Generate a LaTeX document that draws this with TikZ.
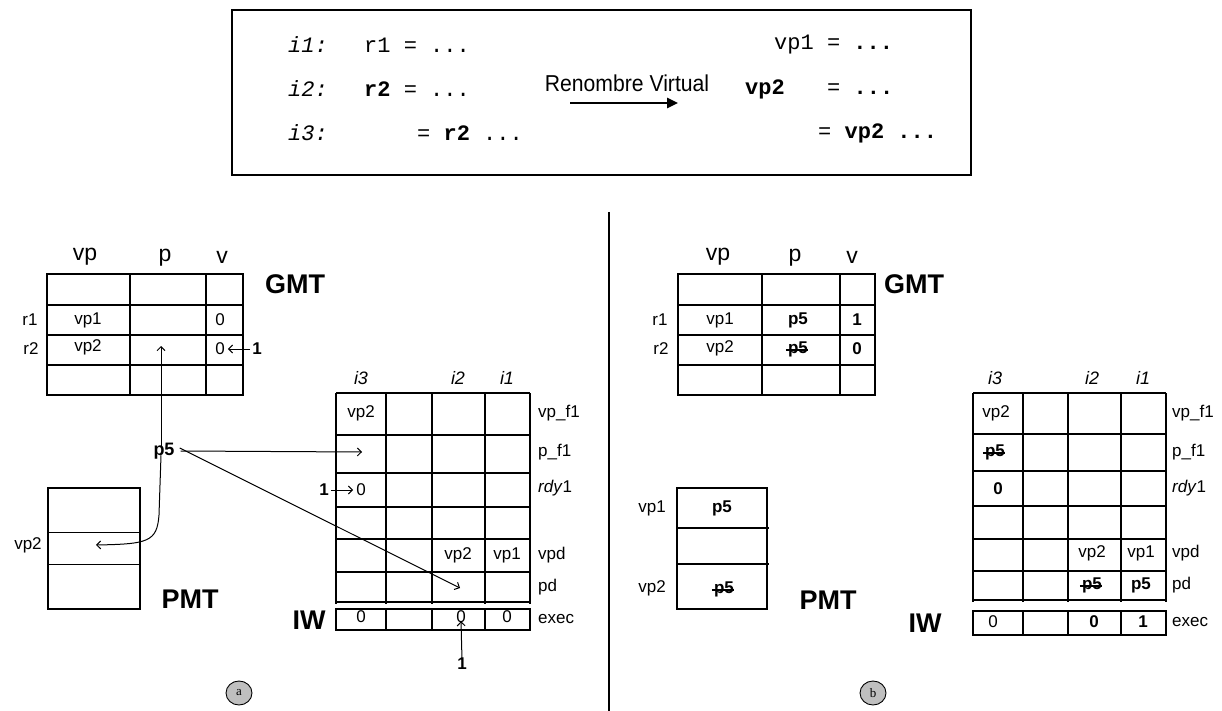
\documentclass[tikz,border=0pt]{standalone}
\usepackage{fontspec}
\setmainfont{Liberation Sans}
\setmonofont{Liberation Mono}
\newfontfamily\serifcirc{Liberation Serif}
\usetikzlibrary{arrows.meta,shapes.geometric}
\newcommand\cellf{\fontsize{17}{19}\selectfont}
\newcommand\headf{\fontsize{23}{26}\selectfont}
\newcommand\bigf{\fontsize{27}{30}\selectfont\bfseries}
\newcommand\monof{\ttfamily\fontsize{22}{24}\selectfont}
\tikzset{
  cell/.style={font=\cellf, inner sep=0pt},
  head/.style={font=\headf, inner sep=0pt},
  ttl/.style={font=\bigf, inner sep=0pt},
  code/.style={font=\monof, inner sep=0pt, anchor=west},
  tbl/.style={line width=1.8pt},
  thinl/.style={line width=0.9pt},
  arr/.style={line width=1pt, -{Straight Barb[length=4pt,width=8pt]}},
  strikeln/.style={line width=1.3pt},
  badge/.style={ellipse, draw, line width=0.9pt, fill=black!25, minimum width=26pt, minimum height=24pt, inner sep=0pt, font=\serifcirc\fontsize{13}{14}\selectfont}
}
\begin{document}
\begin{tikzpicture}[x=1pt,y=-1pt]
\useasboundingbox (0,0) rectangle (1222,711);
% ---------- top box ----------
\draw[line width=2pt] (232,10) rectangle (971,175);
\node[code] (i1) at (288,45) {\itshape i1:};
\node[code] (i2) at (288,89) {\itshape i2:};
\node[code] (i3) at (288,133) {\itshape i3:};
\node[code] (l1) at (364,45) {r1 = ...};
\node[code] (l2) at (364,89) {\textbf{r2} = ...};
\node[code] (l3) at (417,133) {= \textbf{r2} ...};
\node[code] (r1c) at (774,45) {vp1 = \textbf{...}};
\node[code] (r2a) at (745,89) {\textbf{vp2}};
\node[code] (r2b) at (827,89) {= \textbf{...}};
\node[code] (r3c) at (818,133) {= \textbf{vp2 ...}};
\node[font=\fontsize{23}{25}\selectfont, inner sep=0pt] (ren) at (627,83) {\scalebox{0.92}[1]{Renombre Virtual}};
\coordinate (ra) at (570,103);
\coordinate (rb) at (678,103);
\draw[line width=2.5pt, -{Triangle[length=11pt,width=10pt]}] (ra) -- (rb);
% ---------- divider ----------
\coordinate (d1) at (609,212);
\coordinate (d2) at (609,711);
\draw[line width=1.6pt] (d1) -- (d2);
% ---------- left GMT ----------
\draw[tbl] (47,274) rectangle (243,395);
\foreach \y in {305,335,365} \draw[tbl] (47,\y) -- (243,\y);
\foreach \x in {130,206} \draw[tbl] (\x,274) -- (\x,395);
\node[head] (ahvp) at (85,257) {vp};
\node[head] (ahp) at (165,258) {p};
\node[head] (ahv) at (222,257) {v};
\node[ttl] (agmt) at (295,284) {GMT};
\node[cell] (ar1) at (30,320) {r1};
\node[cell] (ar2) at (31,349) {r2};
\node[cell] (avp1) at (88,320) {vp1};
\node[cell] (avp2) at (88,347) {vp2};
\node[cell] (av1) at (220,320) {0};
\node[cell] (av2) at (220,349) {0};
\node[cell, font=\cellf\bfseries] (aone) at (257,349) {1};
\draw[arr] ([xshift=-2pt]aone.west) -- ([xshift=3pt]av2.east);
\coordinate (aptip) at (161,346);
% ---------- p5 and arrows ----------
\node[cell, font=\fontsize{18}{20}\selectfont\bfseries] (p5) at (164,451) {p5};
\draw[arr] ([yshift=-4pt]p5.north -| aptip) -- (aptip);
\coordinate (pf1tip) at (362,452);
\draw[arr] ([xshift=6pt]p5.east) -- (pf1tip);
\coordinate (pdtip) at (460,588);
\draw[arr] ([xshift=5pt,yshift=3pt]p5.east) -- (pdtip);
\coordinate (pmttip) at (96,545);
\draw[arr] ([yshift=4pt]p5.south -| aptip) -- (159,515) .. controls (157,542) and (148,544) .. (pmttip);
% ---------- left PMT ----------
\draw[tbl] (48,488) rectangle (140,609);
\draw[thinl] (48,532) -- (140,532);
\draw[thinl] (48,564) -- (140,564);
\node[cell] (apvp2) at (28,545) {vp2};
\node[ttl] (apmt) at (190,599) {PMT};
% ---------- left IW ----------
\draw[tbl] (336,393) -- (530,393);
\foreach \y in {435,473,507,539,572} \draw[tbl] (336,\y) -- (530,\y);
\draw[tbl] (336,602) -- (530,602);
\foreach \x in {336,386,432,485,530} \draw[tbl] (\x,393) -- (\x,604);
\draw[tbl] (336,609) rectangle (530,630);
\foreach \x in {386,432,485} \draw[tbl] (\x,609) -- (\x,630);
\node[cell, font=\fontsize{18}{20}\selectfont\itshape] (ai3) at (361,378) {i3};
\node[cell, font=\fontsize{18}{20}\selectfont\itshape] (ai2) at (458,378) {i2};
\node[cell, font=\fontsize{18}{20}\selectfont\itshape] (ai1) at (507,378) {i1};
\node[cell] (aw1) at (361,413) {vp2};
\node[cell] (ardy) at (361,490) {0};
\node[cell, font=\cellf\bfseries] (ardyone) at (324,490) {1};
\draw[arr] ([xshift=2pt]ardyone.east) -- ([xshift=-3pt]ardy.west);
\node[cell] (avpd2) at (458,555) {vp2};
\node[cell] (avpd1) at (507,555) {vp1};
\node[cell] (ae1) at (361,617) {0};
\node[cell] (ae3) at (461,617) {0};
\node[cell] (ae4) at (507,617) {0};
\node[cell, font=\cellf\bfseries] (aeone) at (462,664) {1};
\draw[arr] ([yshift=-2pt]aeone.north) -- ([yshift=2pt]ae3.south);
\node[cell, anchor=west] (alvpf) at (538,413) {vp\_f1};
\node[cell, anchor=west] (alpf) at (538,452) {p\_f1};
\node[cell, anchor=west] (alrdy) at (538,488) {\textit{rdy}1};
\node[cell, anchor=west] (alvpd) at (538,555) {vpd};
\node[cell, anchor=west] (alpd) at (538,587) {pd};
\node[cell, anchor=west] (alex) at (538,619) {exec};
\node[ttl] (aiw) at (309,620) {IW};
\node[badge] (ca) at (239,693) {a};
% ---------- right GMT ----------
\draw[tbl] (678,274) rectangle (875,395);
\foreach \y in {305,335,365} \draw[tbl] (678,\y) -- (875,\y);
\foreach \x in {762,840} \draw[tbl] (\x,274) -- (\x,395);
\node[head] (bhvp) at (718,257) {vp};
\node[head] (bhp) at (795,258) {p};
\node[head] (bhv) at (852,257) {v};
\node[ttl] (bgmt) at (914,284) {GMT};
\node[cell] (br1) at (660,320) {r1};
\node[cell] (br2) at (661,349) {r2};
\node[cell] (bvp1) at (720,320) {vp1};
\node[cell] (bvp2) at (720,348) {vp2};
\node[cell, font=\cellf\bfseries] (bp1) at (798,320) {p5};
\node[cell, font=\cellf\bfseries] (bp2) at (798,349) {p5};
\draw[strikeln] ([xshift=-2pt,yshift=-1pt]bp2.west) -- ([yshift=-1pt]bp2.east);
\node[cell, font=\cellf\bfseries] (bv1) at (857,320) {1};
\node[cell, font=\cellf\bfseries] (bv2) at (857,349) {0};
% ---------- right PMT ----------
\draw[tbl] (677,488) rectangle (767,609);
\draw[tbl] (677,528) -- (769,528);
\draw[tbl] (677,564) -- (769,564);
\node[cell] (bpvp1) at (652,508) {vp1};
\node[cell, font=\cellf\bfseries] (bpp1) at (722,508) {p5};
\node[cell] (bpvp2) at (652,588) {vp2};
\node[cell, font=\cellf\bfseries] (bpp2) at (724,589) {p5};
\draw[strikeln] ([xshift=-2pt,yshift=-1pt]bpp2.west) -- ([yshift=-1pt]bpp2.east);
\node[ttl] (bpmt) at (828,600) {PMT};
% ---------- right IW ----------
\draw[tbl] (973,393) -- (1166,393);
\foreach \y in {434,471,506,539,571} \draw[tbl] (973,\y) -- (1166,\y);
\draw[tbl] (973,600) -- (1166,600);
\foreach \x in {973,1023,1068,1121,1166} \draw[tbl] (\x,393) -- (\x,602);
\draw[tbl] (973,611) rectangle (1166,635);
\foreach \x in {1023,1068,1121} \draw[tbl] (\x,611) -- (\x,635);
\node[cell, font=\fontsize{18}{20}\selectfont\itshape] (bi3) at (995,378) {i3};
\node[cell, font=\fontsize{18}{20}\selectfont\itshape] (bi2) at (1092,378) {i2};
\node[cell, font=\fontsize{18}{20}\selectfont\itshape] (bi1) at (1143,378) {i1};
\node[cell] (bw1) at (996,413) {vp2};
\node[cell, font=\cellf\bfseries] (bpf) at (995,452) {p5};
\draw[strikeln] ([xshift=-2pt,yshift=-1pt]bpf.west) -- ([yshift=-1pt]bpf.east);
\node[cell, font=\cellf\bfseries] (brdy) at (998,489) {0};
\node[cell] (bvpd2) at (1092,553) {vp2};
\node[cell] (bvpd1) at (1141,553) {vp1};
\node[cell, font=\cellf\bfseries] (bpd2) at (1092,585) {p5};
\draw[strikeln] ([xshift=-2pt,yshift=-1pt]bpd2.west) -- ([yshift=-1pt]bpd2.east);
\node[cell, font=\cellf\bfseries] (bpd1) at (1141,585) {p5};
\node[cell] (be1) at (993,622) {0};
\node[cell, font=\cellf\bfseries] (be3) at (1094,622) {0};
\node[cell, font=\cellf\bfseries] (be4) at (1143,622) {1};
\node[cell, anchor=west] (blvpf) at (1172,413) {vp\_f1};
\node[cell, anchor=west] (blpf) at (1172,452) {p\_f1};
\node[cell, anchor=west] (blrdy) at (1172,488) {\textit{rdy}1};
\node[cell, anchor=west] (blvpd) at (1172,553) {vpd};
\node[cell, anchor=west] (blpd) at (1172,585) {pd};
\node[cell, anchor=west] (blex) at (1172,622) {exec};
\node[ttl] (biw) at (925,623) {IW};
\node[badge] (cb) at (873,693) {b};
\end{tikzpicture}
\end{document}
